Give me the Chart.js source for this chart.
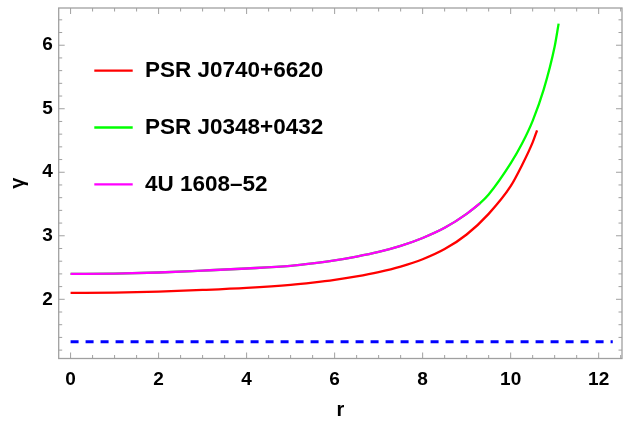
<!DOCTYPE html>
<html>
<head>
<meta charset="utf-8">
<script src="https://cdn.jsdelivr.net/npm/chart.js@4/dist/chart.umd.min.js"></script>
<style>
  html, body { margin: 0; padding: 0; background: #ffffff; }
  #wrap { width: 624px; height: 424px; }
</style>
</head>
<body>
<div id="wrap"><canvas id="c" width="624" height="424"></canvas></div>
<script>
// ---- data ----
const seriesNames = ['PSR J0740+6620', 'PSR J0348+0432', '4U 1608–52'];

const rRed     = [0, 1, 2, 3, 4, 5, 5.5, 6, 6.5, 7, 7.5, 8, 8.5, 9, 9.5, 10, 10.25, 10.5, 10.6];
const gammaRed = [2.10, 2.105, 2.12, 2.147, 2.18, 2.227, 2.262, 2.305, 2.36, 2.428, 2.515, 2.63, 2.79, 3.02, 3.345, 3.78, 4.10, 4.47, 4.66];

const rGreen     = [0, 1, 2, 3, 4, 5, 5.5, 6, 6.5, 7, 7.5, 8, 8.5, 9, 9.3, 9.5, 10, 10.25, 10.5, 10.75, 11, 11.09];
const gammaGreen = [2.40, 2.405, 2.422, 2.452, 2.485, 2.527, 2.565, 2.612, 2.672, 2.745, 2.84, 2.965, 3.125, 3.345, 3.51, 3.65, 4.14, 4.44, 4.81, 5.30, 5.98, 6.34];

const rMagenta     = [0, 1, 2, 3, 4, 5, 5.5, 6, 6.5, 7, 7.5, 8, 8.5, 9, 9.3];
const gammaMagenta = [2.40, 2.405, 2.422, 2.452, 2.485, 2.527, 2.565, 2.612, 2.672, 2.745, 2.84, 2.965, 3.125, 3.345, 3.51];

const rDashed     = [0, 12.32];
const gammaDashed = [4/3, 4/3];

const xTickValues = [0, 2, 4, 6, 8, 10, 12];
const yTickValues = [2, 3, 4, 5, 6];
const xMinorStep = 0.5;
const yMinorStep = 0.2;

const xRange = [-0.27, 12.53];
const yRange = [1.068, 6.586];

const toPoints = (xs, ys) => xs.map((x, i) => ({ x: x, y: ys[i] }));

const FONT = '"Liberation Sans", Arial, Helvetica, sans-serif';
const FRAME = '#a0a0a0';

// ---- frame with inward ticks on all four sides ----
const frameTicks = {
  id: 'frameTicks',
  afterDatasetsDraw(chart) {
    const { ctx, chartArea: a, scales: { x, y } } = chart;
    ctx.save();
    ctx.strokeStyle = FRAME;
    ctx.lineWidth = 1.3;
    ctx.strokeRect(a.left, a.top, a.right - a.left, a.bottom - a.top);
    ctx.lineWidth = 1;
    const major = 6, minor = 3.5;
    const isMajor = (v, arr) => arr.some(t => Math.abs(t - v) < 1e-6);
    const x0 = Math.ceil(xRange[0] / xMinorStep) * xMinorStep;
    for (let v = x0; v <= xRange[1] + 1e-9; v += xMinorStep) {
      const vv = Math.round(v * 1000) / 1000;
      const px = x.getPixelForValue(vv);
      const len = isMajor(vv, xTickValues) ? major : minor;
      ctx.beginPath();
      ctx.moveTo(px, a.bottom); ctx.lineTo(px, a.bottom - len);
      ctx.moveTo(px, a.top); ctx.lineTo(px, a.top + len);
      ctx.stroke();
    }
    const y0 = Math.ceil(yRange[0] / yMinorStep) * yMinorStep;
    for (let v = y0; v <= yRange[1] + 1e-9; v += yMinorStep) {
      const vv = Math.round(v * 1000) / 1000;
      const py = y.getPixelForValue(vv);
      const len = isMajor(vv, yTickValues) ? major : minor;
      ctx.beginPath();
      ctx.moveTo(a.left, py); ctx.lineTo(a.left + len, py);
      ctx.moveTo(a.right, py); ctx.lineTo(a.right - len, py);
      ctx.stroke();
    }
    ctx.restore();
  }
};

// ---- legend drawn inside the plot ----
const innerLegend = {
  id: 'innerLegend',
  afterDraw(chart) {
    const ctx = chart.ctx;
    ctx.save();
    ctx.font = 'bold 22.5px ' + FONT;
    ctx.textBaseline = 'middle';
    ctx.textAlign = 'left';
    let row = 0;
    chart.data.datasets.forEach(ds => {
      if (!ds.label) return;
      const yPos = 70.7 + row * 56.8;
      ctx.strokeStyle = ds.borderColor;
      ctx.lineWidth = 2.3;
      ctx.beginPath();
      ctx.moveTo(94.3, yPos); ctx.lineTo(132.7, yPos);
      ctx.stroke();
      ctx.fillStyle = '#000000';
      ctx.fillText(ds.label, 145, yPos);
      row++;
    });
    ctx.restore();
  }
};

const lineDefaults = { pointRadius: 0, pointHoverRadius: 0, fill: false, borderWidth: 2.3, cubicInterpolationMode: 'monotone', showLine: true };

new Chart(document.getElementById('c'), {
  type: 'scatter',
  data: {
    datasets: [
      Object.assign({}, lineDefaults, { label: seriesNames[0], data: toPoints(rRed, gammaRed), borderColor: '#ff0000', backgroundColor: '#ff0000', order: 1 }),
      Object.assign({}, lineDefaults, { label: seriesNames[1], data: toPoints(rGreen, gammaGreen), borderColor: '#00ff00', backgroundColor: '#00ff00', order: 2 }),
      Object.assign({}, lineDefaults, { label: seriesNames[2], data: toPoints(rMagenta, gammaMagenta), borderColor: '#ff00ff', backgroundColor: '#ff00ff', order: 0 }),
      Object.assign({}, lineDefaults, { label: '', data: toPoints(rDashed, gammaDashed), borderColor: '#0000ff', backgroundColor: '#0000ff', borderWidth: 3, borderDash: [8, 7], cubicInterpolationMode: 'default', tension: 0, order: 3 })
    ]
  },
  options: {
    responsive: false,
    animation: false,
    events: [],
    layout: { padding: { top: 8, right: 2, left: 0, bottom: 0 } },
    plugins: { legend: { display: false }, tooltip: { enabled: false } },
    scales: {
      x: {
        type: 'linear', min: xRange[0], max: xRange[1],
        grid: { display: false, drawTicks: false },
        border: { display: false },
        afterBuildTicks: s => { s.ticks = xTickValues.map(v => ({ value: v })); },
        afterFit: s => { s.height = 65.5; s.paddingLeft = 0; s.paddingRight = 0; },
        ticks: { color: '#000', padding: 10, maxRotation: 0, font: { family: FONT, size: 19, weight: 'bold' } },
        title: { display: true, text: 'r', color: '#000', padding: { top: 0, bottom: 2 }, font: { family: FONT, size: 20, weight: 'bold' } }
      },
      y: {
        type: 'linear', min: yRange[0], max: yRange[1],
        grid: { display: false, drawTicks: false },
        border: { display: false },
        afterBuildTicks: s => { s.ticks = yTickValues.map(v => ({ value: v })); },
        afterFit: s => { s.width = 58.7; s.paddingTop = 0; s.paddingBottom = 0; },
        ticks: { color: '#000', padding: 6, font: { family: FONT, size: 19, weight: 'bold' } },
        title: { display: true, text: 'γ', color: '#000', padding: { top: 6, bottom: 0 }, font: { family: FONT, size: 20, weight: 'bold' } }
      }
    }
  },
  plugins: [frameTicks, innerLegend]
});
</script>
</body>
</html>
